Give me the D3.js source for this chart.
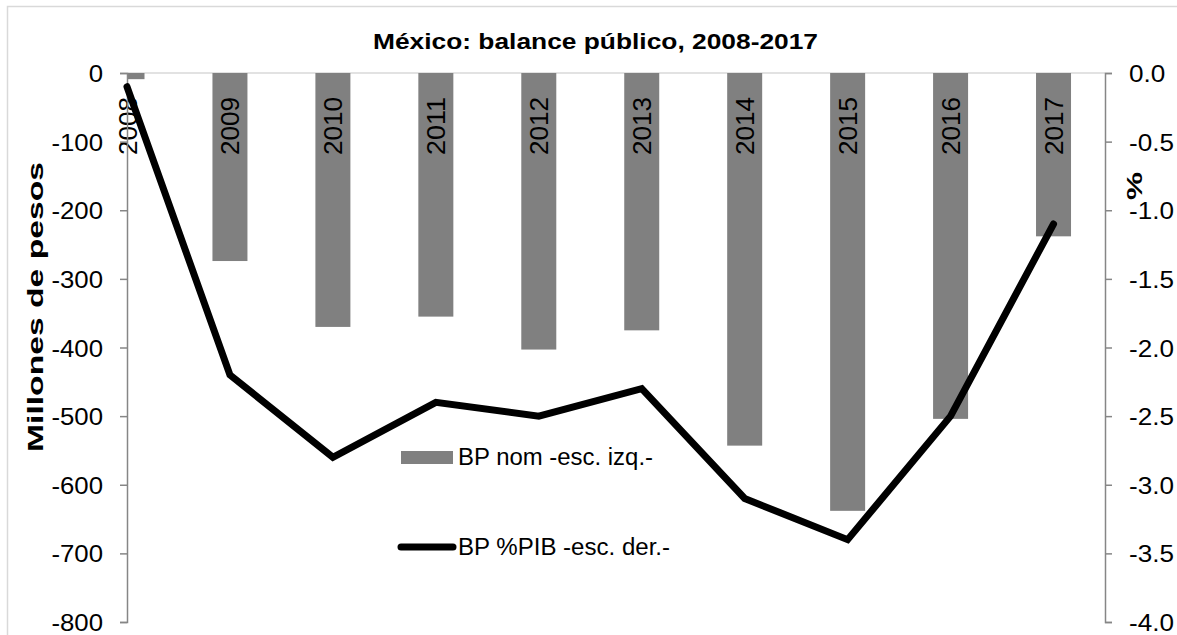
<!DOCTYPE html>
<html>
<head>
<meta charset="utf-8">
<script src="https://cdn.jsdelivr.net/npm/d3@7"></script>
<style>
  html, body { margin: 0; padding: 0; background: #fff; }
  svg { display: block; font-family: Arial, "Liberation Sans", sans-serif; }
</style>
</head>
<body>
<svg id="chart" width="1177" height="635"></svg>
<script>
const categories = ["2008","2009","2010","2011","2012","2013","2014","2015","2016","2017"];
const bpNominal = [-9, -274, -370, -355, -403, -375, -543, -638, -504, -238];
const bpPctPIB = [-0.1, -2.2, -2.8, -2.4, -2.5, -2.3, -3.1, -3.4, -2.5, -1.1];
const leftTicks = [0, -100, -200, -300, -400, -500, -600, -700, -800];
const rightTicks = [0, -0.5, -1.0, -1.5, -2.0, -2.5, -3.0, -3.5, -4.0];
const titleText = "México: balance público, 2008-2017";
const leftTitle = "Millones de pesos";
const rightTitle = "%";
const legendLabels = ["BP nom -esc. izq.-", "BP %PIB -esc. der.-"];

const svg = d3.select("#chart");
const W = 1177, H = 635;
const plot = { left: 127, right: 1105, top: 73, bottom: 622 };
const FONT = "Arial, 'Liberation Sans', sans-serif";

// stretch a text element horizontally (along its reading direction) by a factor
function stretch(sel, factor) {
  sel.each(function () {
    const n = this.getComputedTextLength();
    d3.select(this).attr("textLength", n * factor).attr("lengthAdjust", "spacingAndGlyphs");
  });
}

// outer border
svg.append("rect").attr("x", 7.5).attr("y", 6.5).attr("width", 1300).attr("height", 800)
  .attr("fill", "none").attr("stroke", "#d9d9d9").attr("stroke-width", 1.5);

const x = d3.scalePoint().domain(categories).range([plot.left, plot.right]).padding(0.25).align(0);
const yL = d3.scaleLinear().domain([-800, 0]).range([plot.bottom, plot.top]);
const yR = d3.scaleLinear().domain([-4, 0]).range([plot.bottom, plot.top]);
const barW = 35;

svg.append("defs").append("clipPath").attr("id", "plotclip")
  .append("rect").attr("x", plot.left).attr("y", 0).attr("width", plot.right - plot.left).attr("height", H);

// zero line
svg.append("line").attr("x1", plot.left).attr("x2", plot.right)
  .attr("y1", yL(0)).attr("y2", yL(0)).attr("stroke", "#d9d9d9").attr("stroke-width", 1.5);

// bars
svg.append("g").attr("clip-path", "url(#plotclip)")
  .selectAll("rect").data(categories).join("rect")
  .attr("x", (d) => x(d) - barW / 2)
  .attr("width", barW)
  .attr("y", yL(0))
  .attr("height", (d, i) => yL(bpNominal[i]) - yL(0))
  .attr("fill", "#808080");

// category labels (rotated, inside bars)
svg.append("g").selectAll("text").data(categories).join("text")
  .attr("transform", (d) => `translate(${x(d) + 9.5},155) rotate(-90)`)
  .attr("text-anchor", "start")
  .attr("font-size", 25)
  .attr("fill", "#000")
  .attr("textLength", 58).attr("lengthAdjust", "spacingAndGlyphs")
  .text((d) => d);

// left axis
const gL = svg.append("g").attr("transform", `translate(${plot.left},0)`)
  .call(d3.axisLeft(yL).tickValues(leftTicks).tickSize(7).tickPadding(24).tickFormat((d) => String(d)));
gL.select(".domain").attr("stroke", "#868686").attr("stroke-width", 1.5);
gL.selectAll(".tick line").attr("stroke", "#868686").attr("stroke-width", 1.5);
gL.selectAll(".tick text").attr("font-size", 23).attr("fill", "#000").attr("font-family", FONT)
  .attr("text-anchor", "start").attr("dy", null).attr("y", 8.5)
  .each(function () {
    const n = this.getComputedTextLength() * 1.12;
    d3.select(this).attr("textLength", n).attr("lengthAdjust", "spacingAndGlyphs").attr("x", 103 - plot.left - n);
  });

// right axis
const gR = svg.append("g").attr("transform", `translate(${plot.right},0)`)
  .call(d3.axisRight(yR).tickValues(rightTicks).tickSize(7).tickPadding(24).tickFormat((d) => d.toFixed(1)));
gR.select(".domain").attr("stroke", "#868686").attr("stroke-width", 1.5);
gR.selectAll(".tick line").attr("stroke", "#868686").attr("stroke-width", 1.5);
gR.selectAll(".tick text").attr("font-size", 23.5).attr("fill", "#000").attr("font-family", FONT)
  .attr("dy", null).attr("y", 8.5).attr("x", 1129 - plot.right);
stretch(gR.selectAll(".tick text"), 1.11);

// line
const line = d3.line().x((d, i) => x(categories[i])).y((d) => yR(d));
svg.append("path").datum(bpPctPIB)
  .attr("d", line)
  .attr("fill", "none").attr("stroke", "#000").attr("stroke-width", 7)
  .attr("stroke-linecap", "round").attr("stroke-linejoin", "miter");

// title
svg.append("text").attr("x", 373).attr("y", 49).attr("text-anchor", "start")
  .attr("font-size", 22).attr("font-weight", "bold")
  .attr("textLength", 445).attr("lengthAdjust", "spacingAndGlyphs").text(titleText);

// axis titles
svg.append("text").attr("transform", `translate(43,452) rotate(-90)`).attr("text-anchor", "start")
  .attr("font-size", 22).attr("font-weight", "bold")
  .attr("textLength", 290).attr("lengthAdjust", "spacingAndGlyphs").text(leftTitle);
svg.append("text").attr("transform", `translate(1142,200) rotate(-90)`).attr("text-anchor", "start")
  .attr("font-size", 22).attr("font-weight", "bold")
  .attr("textLength", 28).attr("lengthAdjust", "spacingAndGlyphs").text(rightTitle);

// legend
const lg = svg.append("g");
lg.append("rect").attr("x", 401).attr("y", 451).attr("width", 52).attr("height", 13).attr("fill", "#808080");
lg.append("text").attr("x", 458).attr("y", 465).attr("font-size", 23.5)
  .attr("textLength", 195).attr("lengthAdjust", "spacingAndGlyphs").text(legendLabels[0]);
lg.append("line").attr("x1", 401).attr("x2", 453).attr("y1", 547).attr("y2", 547)
  .attr("stroke", "#000").attr("stroke-width", 7).attr("stroke-linecap", "round");
lg.append("text").attr("x", 458).attr("y", 555).attr("font-size", 23.5)
  .attr("textLength", 212).attr("lengthAdjust", "spacingAndGlyphs").text(legendLabels[1]);
</script>
</body>
</html>
